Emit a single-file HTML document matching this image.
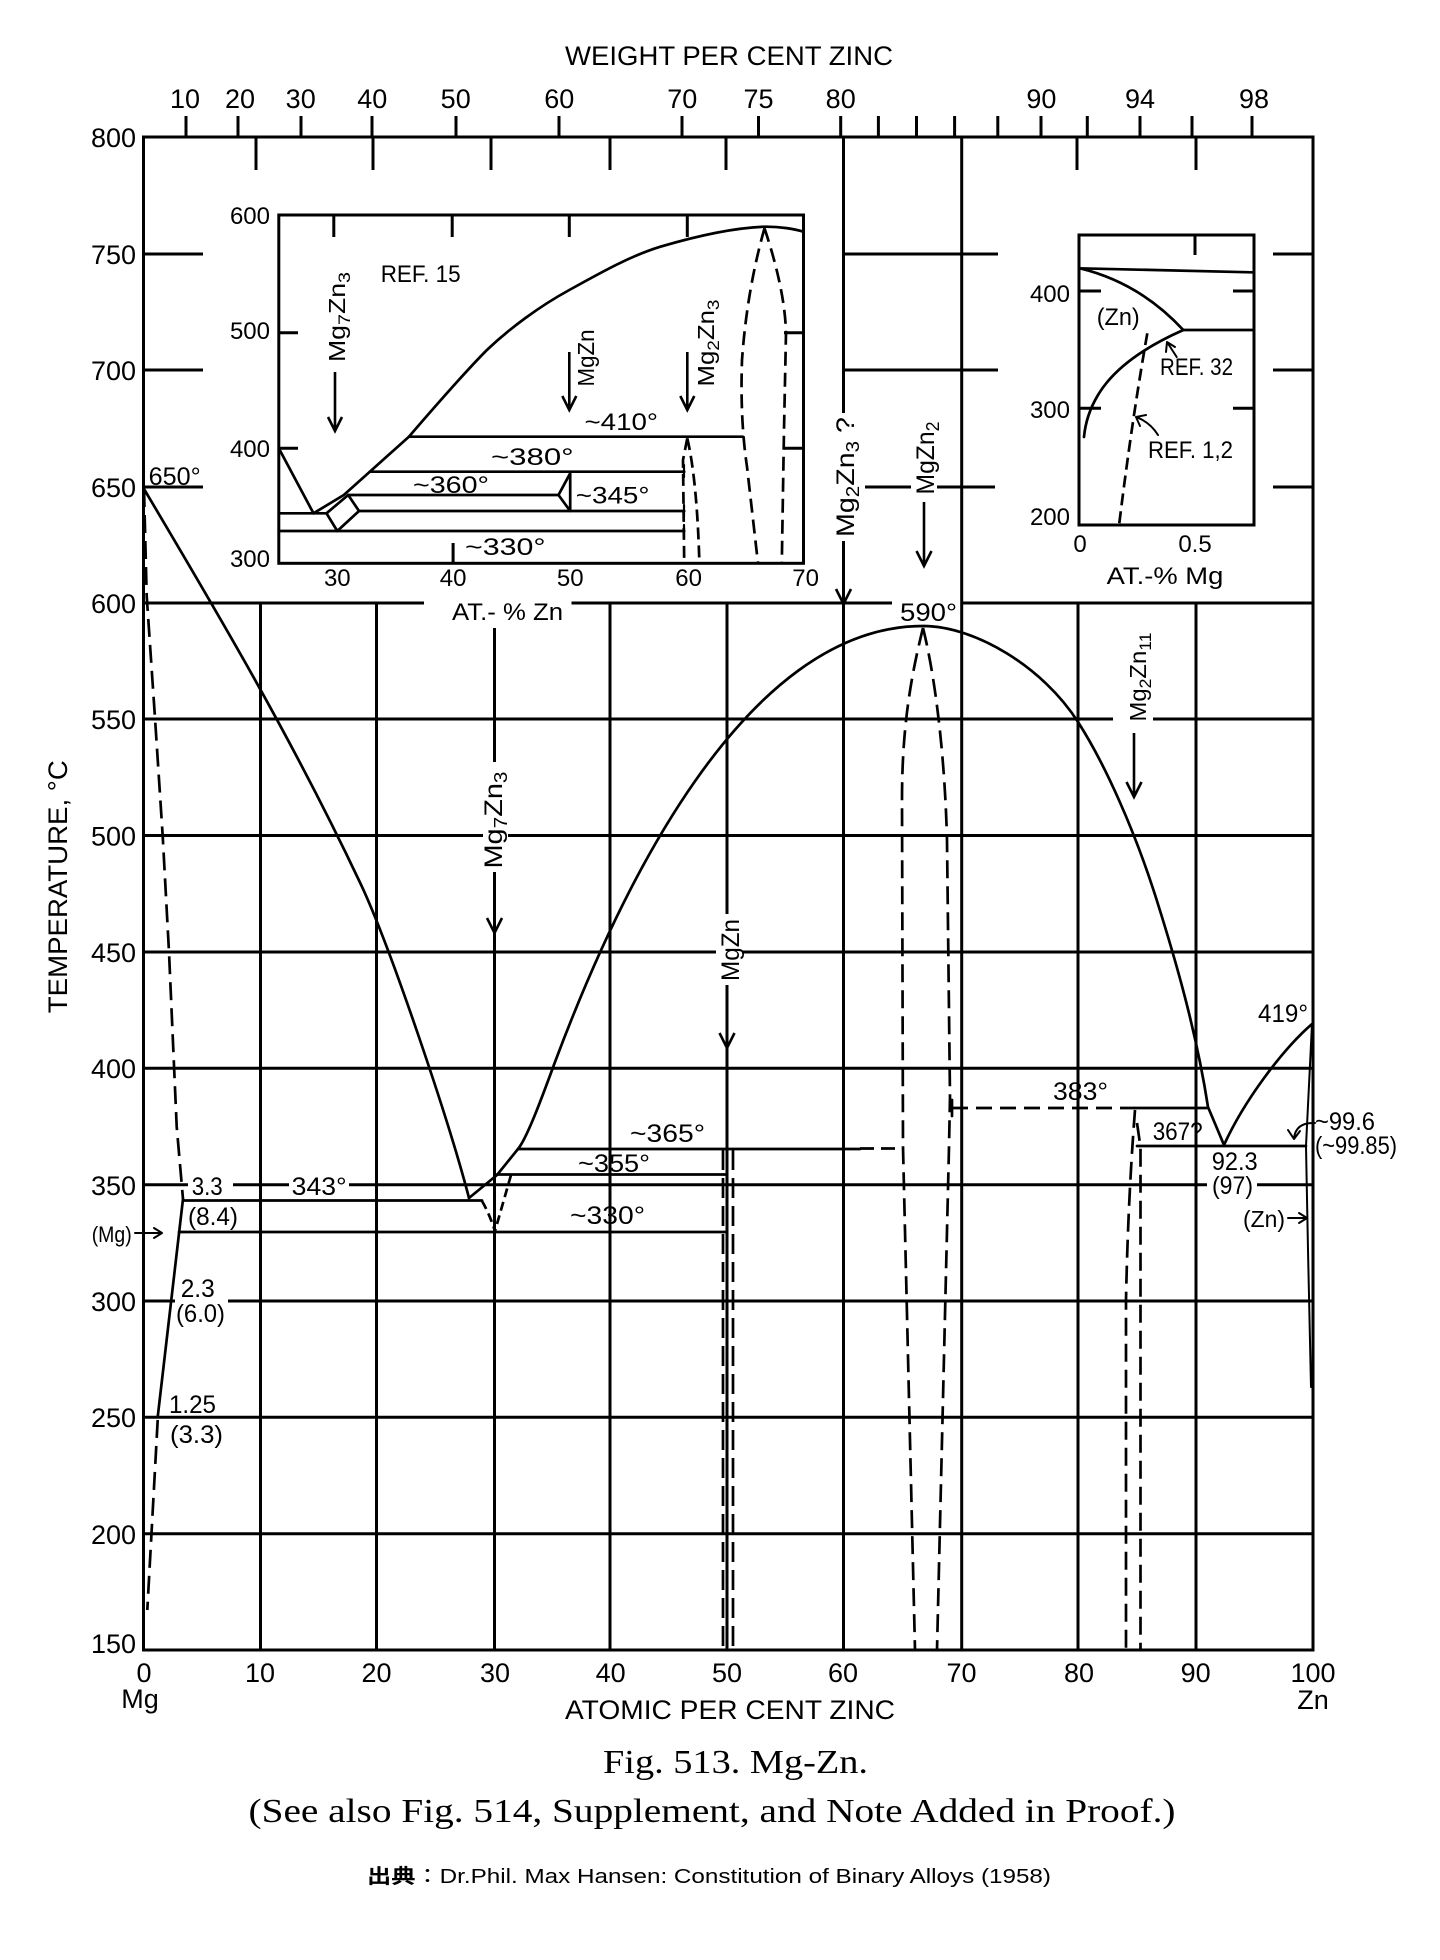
<!DOCTYPE html>
<html>
<head>
<meta charset="utf-8">
<style>
html,body{margin:0;padding:0;background:#fff;}
body{width:1440px;height:1960px;overflow:hidden;}
svg{display:block;}
text{fill:#000;}
</style>
</head>
<body>
<svg width="1440" height="1960" viewBox="0 0 1440 1960" xmlns="http://www.w3.org/2000/svg" font-family="'Liberation Sans', sans-serif">
<rect width="1440" height="1960" fill="#fff"/>

<!-- ============ FRAME & GRID ============ -->
<g stroke="#000" stroke-width="3" fill="none">
  <rect x="143.5" y="137" width="1169.5" height="1513"/>
  <!-- weight % ticks above frame -->
  <path d="M186 116V137 M238 116V137 M301 116V137 M372 116V137 M456 116V137 M559 116V137 M682 116V137 M758.5 116V137 M840.7 116V137 M878.4 116V137 M916.5 116V137 M954.6 116V137 M997.8 116V137 M1041 116V137 M1087.3 116V137 M1140 116V137 M1192 116V137 M1252 116V137"/>
  <!-- at% ticks below frame top -->
  <path d="M256 137V170 M373 137V170 M491 137V170 M610 137V170 M726 137V170 M1077 137V170 M1196 137V170"/>
  <!-- vertical grid -->
  <path d="M260.5 603V1650 M376.5 603V1650 M494.5 628V762 M494.5 872V1650 M610 603V1650 M727 603V914 M727 985V1650 M843.5 137V413 M843.5 541V1650 M961.7 137V1650 M1078 603V1650 M1196 603V1650"/>
  <!-- horizontal grid -->
  <path d="M143.5 254H203 M843.5 254H998 M1273 254H1313
           M143.5 370H203 M843.5 370H998 M1273 370H1313
           M143.5 487H203 M865 487H911 M937 487H995 M1273 487H1313
           M143.5 603H424 M571.5 603H892 M963 603H1313
           M143.5 719H1113 M1153 719H1313
           M143.5 835.5H483 M508 835.5H1313
           M143.5 952H716 M742 952H1313
           M143.5 1068.3H1313
           M143.5 1184.7H188 M233 1184.7H289 M349 1184.7H1207 M1257 1184.7H1313
           M143.5 1301H175 M228 1301H1313
           M143.5 1417.3H1313
           M143.5 1533.8H1313"/>
  <!-- compound arrows main -->
  <path d="M487 918L494.5 933L502 918 M719.5 1033L727 1048L734.5 1033 M836 589L843.5 604L851 589 M924 502V566 M916.5 551L924 566L931.5 551 M1134 733V797 M1126.5 782L1134 797L1141.5 782" stroke-width="2.6"/>

  <!-- left inset box -->
  <rect x="278.8" y="215" width="524.7" height="348.3"/>
  <path d="M333.8 215V237 M452.2 215V237 M569.3 215V237 M687.3 215V237 M278.8 332.7H298 M278.8 448.3H298 M784 332.7H803.5 M784 448.3H803.5 M453.1 543V563.3"/>
  <path d="M335 372V431 M328 417L335 431L342 417 M569.3 352V410 M562.3 396L569.3 410L576.3 396 M687.3 352V410 M680.3 396L687.3 410L694.3 396" stroke-width="2.6"/>

  <!-- right inset box -->
  <rect x="1079" y="235" width="175" height="290"/>
  <path d="M1195 235V255 M1079 291H1101 M1079 408.3H1101 M1233 291H1254 M1233 408.3H1254"/>
</g>

<!-- ============ SOLID CURVES ============ -->
<g stroke="#000" stroke-width="2.7" fill="none" stroke-linejoin="round" stroke-linecap="round">
  <!-- Mg-side liquidus -->
  <path d="M144 489 C214 607 290 734.5 360 882.5 C390 945.5 449 1121 469 1198"/>
  <!-- main liquidus -->
  <path d="M469 1198 L497 1175 L518 1149 C528 1136.6 545 1089 555 1062 C618 894 743 626 923 626 C975 626 1043 667 1078 722 C1105 764 1135 831 1157 901 C1174 955 1196 1029 1208 1107 L1224 1145 C1244 1101 1282 1050 1312 1024"/>
  <!-- (Mg) solvus solid -->
  <path d="M183 1199 L157.7 1417"/>
  <!-- horizontals -->
  <path d="M183 1200.5H482 M179 1232H725 M497 1174.5H727 M518 1149H860 M1135 1108H1208 M1137 1146H1306 M952 1100V1116"/>
  <!-- (Zn) solvus -->
  <path d="M1312 1024 L1306 1146 L1308 1250 L1311 1387" stroke-width="2"/>
  <!-- small arrows -->
  <path d="M1315 1123 Q1296 1122 1294 1138 M1288 1130 L1294 1139 L1300 1131" stroke-width="2"/>
  <path d="M1288 1218H1306 M1299 1213L1307 1218L1299 1223" stroke-width="2"/>
  <path d="M135 1233H161 M154 1228L162 1233L154 1238" stroke-width="2"/>

  <!-- left inset curves -->
  <path d="M278.8 448.3 L313.5 513.3"/>
  <path d="M313.5 513.3 L343.8 495 L369.8 471.7 L408.9 436.7 C425 418 465 372 486.9 350 C510 328 540 306 569.3 290 C600 273 630 256 660.4 246.7 C690 238 730 228 764.5 226.7 C780 226.5 795 229 803.5 231.7"/>
  <path d="M278.8 513.3H326.5 M278.8 531H684.2 M359 511H684.2 M348.2 495H558.5 M369.8 471.7H684.2 M408.9 436.7H742.8"/>
  <path d="M326.5 513.3 L348.2 495 L359 511 L337.3 531 Z"/>
  <path d="M558.5 495 L570.2 473.3 V511 Z"/>
  <path d="M684 465V477 M684 505V517 M684 525V537" stroke-width="2.2"/>

  <!-- right inset curves -->
  <path d="M1079 268.3 L1251.7 272.3"/>
  <path d="M1080 268.3 Q1140 283 1183.3 330"/>
  <path d="M1183.3 330H1253"/>
  <path d="M1183.3 330 Q1120 358 1098 395 Q1086 415 1084 437"/>
  <path d="M1176.7 357 L1167 342 M1166 352 L1167 342 L1175 347" stroke-width="2"/>
  <path d="M1158 435 Q1150 422 1136 417 M1140 426 L1136 417 L1146 415" stroke-width="2"/>
</g>

<!-- ============ DASHED CURVES ============ -->
<g stroke="#000" stroke-width="2.7" fill="none" stroke-dasharray="18 8">
  <path d="M144 489 L146.7 596 L155 718 L162.7 836 L169 952 L176.7 1126.6 L183 1199"/>
  <path d="M157.7 1420 L147.3 1610"/>
  <path d="M723 1150V1650 M733 1150V1650" stroke-dasharray="20 8"/>
  <path d="M860 1148.5H902" stroke-dasharray="14 7"/>
  <path d="M923 628 C910 680 902 730 902 800 L903 1147 L915 1650"/>
  <path d="M923 628 C936 680 945 760 947 840 L950 1097 L949 1147 L937 1650"/>
  <path d="M952 1108H1135" stroke-dasharray="16 8"/>
  <path d="M1135 1110 Q1128 1200 1126 1300 L1126 1650"/>
  <path d="M1137 1123 L1140.5 1147 L1140.5 1650"/>
  <path d="M482 1201 Q489 1213 495 1231 M511 1175 L495 1231" stroke-dasharray="9 5"/>
  <!-- left inset -->
  <path d="M687.3 438.3 L683 460 L684.2 563.3" stroke-dasharray="12 6"/>
  <path d="M687.3 438.3 Q697 480 699.4 563.3" stroke-dasharray="12 6"/>
  <path d="M764.5 228.3 Q747 290 742 360 Q740 420 747 466.7 L758 563.3" stroke-dasharray="14 7"/>
  <path d="M764.5 228.3 Q785 290 786 333 L784 430 L781.8 563.3" stroke-dasharray="14 7"/>
  <!-- right inset -->
  <path d="M1147.3 333.3 Q1132 420 1119.3 523.3" stroke-dasharray="12 6"/>
</g>

<!-- ============ AXIS TEXT ============ -->
<g font-size="27">
  <text x="729" y="65" text-anchor="middle" textLength="328" lengthAdjust="spacingAndGlyphs">WEIGHT PER CENT ZINC</text>
  <g text-anchor="middle">
    <text x="185" y="108">10</text><text x="240" y="108">20</text><text x="300.7" y="108">30</text>
    <text x="372.3" y="108">40</text><text x="455.7" y="108">50</text><text x="559.3" y="108">60</text>
    <text x="682.3" y="108">70</text><text x="758.5" y="108">75</text><text x="840.7" y="108">80</text>
    <text x="1041.4" y="108">90</text><text x="1140" y="108">94</text><text x="1254" y="108">98</text>
  </g>
  <g text-anchor="end">
    <text x="136" y="147">800</text><text x="136" y="264">750</text><text x="136" y="380">700</text>
    <text x="136" y="497">650</text><text x="136" y="613">600</text><text x="136" y="729">550</text>
    <text x="136" y="845.5">500</text><text x="136" y="962">450</text><text x="136" y="1078">400</text>
    <text x="136" y="1195">350</text><text x="136" y="1311">300</text><text x="136" y="1427">250</text>
    <text x="136" y="1544">200</text><text x="136" y="1653">150</text>
  </g>
  <g text-anchor="middle">
    <text x="144" y="1682">0</text><text x="260" y="1682">10</text><text x="376.5" y="1682">20</text>
    <text x="495" y="1682">30</text><text x="610.6" y="1682">40</text><text x="727" y="1682">50</text>
    <text x="843" y="1682">60</text><text x="961.5" y="1682">70</text><text x="1079" y="1682">80</text>
    <text x="1195.6" y="1682">90</text><text x="1313" y="1682">100</text>
    <text x="140" y="1708">Mg</text><text x="1313" y="1709">Zn</text>
  </g>
  <text x="730" y="1719" text-anchor="middle" textLength="330" lengthAdjust="spacingAndGlyphs">ATOMIC PER CENT ZINC</text>
  <text transform="translate(67,886.7) rotate(-90)" text-anchor="middle" textLength="253" lengthAdjust="spacingAndGlyphs">TEMPERATURE, °C</text>
</g>

<!-- ============ MAIN LABELS ============ -->
<g font-size="25">
  <text x="148.7" y="485" textLength="52" lengthAdjust="spacingAndGlyphs">650°</text>
  <text x="900" y="621" textLength="57" lengthAdjust="spacingAndGlyphs">590°</text>
  <text x="191.7" y="1195" textLength="31" lengthAdjust="spacingAndGlyphs">3.3</text>
  <text x="291.7" y="1195" textLength="55" lengthAdjust="spacingAndGlyphs">343°</text>
  <text x="188" y="1225" textLength="50" lengthAdjust="spacingAndGlyphs">(8.4)</text>
  <text x="91.7" y="1242" font-size="22" textLength="40" lengthAdjust="spacingAndGlyphs">(Mg)</text>
  <text x="180.7" y="1297" textLength="34" lengthAdjust="spacingAndGlyphs">2.3</text>
  <text x="176" y="1322" textLength="49" lengthAdjust="spacingAndGlyphs">(6.0)</text>
  <text x="169" y="1413" textLength="47" lengthAdjust="spacingAndGlyphs">1.25</text>
  <text x="170" y="1443" textLength="53" lengthAdjust="spacingAndGlyphs">(3.3)</text>
  <text x="630" y="1142" textLength="75" lengthAdjust="spacingAndGlyphs">~365°</text>
  <text x="578" y="1172" textLength="72" lengthAdjust="spacingAndGlyphs">~355°</text>
  <text x="570" y="1224" textLength="75" lengthAdjust="spacingAndGlyphs">~330°</text>
  <text x="1053" y="1100" textLength="55" lengthAdjust="spacingAndGlyphs">383°</text>
  <text x="1152.7" y="1140" textLength="50" lengthAdjust="spacingAndGlyphs">367?</text>
  <text x="1258" y="1022" textLength="50" lengthAdjust="spacingAndGlyphs">419°</text>
  <text x="1211.7" y="1170" textLength="46" lengthAdjust="spacingAndGlyphs">92.3</text>
  <text x="1212" y="1194" textLength="41" lengthAdjust="spacingAndGlyphs">(97)</text>
  <text x="1315" y="1130" textLength="60" lengthAdjust="spacingAndGlyphs">~99.6</text>
  <text x="1315" y="1154" textLength="82" lengthAdjust="spacingAndGlyphs">(~99.85)</text>
  <text x="1243" y="1227" font-size="23" textLength="42" lengthAdjust="spacingAndGlyphs">(Zn)</text>

  <!-- rotated compound labels -->
  <text transform="translate(854,477) rotate(-90)" text-anchor="middle" textLength="120" lengthAdjust="spacingAndGlyphs">Mg<tspan dy="5" font-size="18">2</tspan><tspan dy="-5">Zn</tspan><tspan dy="5" font-size="18">3</tspan><tspan dy="-5"> ?</tspan></text>
  <text transform="translate(934,458) rotate(-90)" text-anchor="middle" textLength="73" lengthAdjust="spacingAndGlyphs">MgZn<tspan dy="5" font-size="18">2</tspan></text>
  <text transform="translate(1146,677) rotate(-90)" text-anchor="middle" font-size="23" textLength="89" lengthAdjust="spacingAndGlyphs">Mg<tspan dy="5" font-size="17">2</tspan><tspan dy="-5">Zn</tspan><tspan dy="5" font-size="17">11</tspan></text>
  <text transform="translate(502,820) rotate(-90)" text-anchor="middle" textLength="97" lengthAdjust="spacingAndGlyphs">Mg<tspan dy="5" font-size="18">7</tspan><tspan dy="-5">Zn</tspan><tspan dy="5" font-size="18">3</tspan></text>
  <text transform="translate(739,950) rotate(-90)" text-anchor="middle" textLength="62" lengthAdjust="spacingAndGlyphs">MgZn</text>
</g>

<!-- ============ LEFT INSET LABELS ============ -->
<g font-size="24">
  <g text-anchor="end">
    <text x="270" y="224">600</text><text x="270" y="339">500</text>
    <text x="270" y="457">400</text><text x="270" y="567">300</text>
  </g>
  <g text-anchor="middle">
    <text x="337.3" y="586">30</text><text x="453.1" y="586">40</text><text x="570.2" y="586">50</text>
    <text x="688.6" y="586">60</text><text x="805.6" y="586">70</text>
  </g>
  <text x="507.5" y="620" text-anchor="middle" textLength="111" lengthAdjust="spacingAndGlyphs">AT.- % Zn</text>
  <text x="380.7" y="282" textLength="80" lengthAdjust="spacingAndGlyphs">REF. 15</text>
  <text x="584.5" y="430" textLength="73.5" lengthAdjust="spacingAndGlyphs">~410°</text>
  <text x="491" y="465" textLength="82.6" lengthAdjust="spacingAndGlyphs">~380°</text>
  <text x="413" y="493" textLength="76" lengthAdjust="spacingAndGlyphs">~360°</text>
  <text x="575.8" y="503.5" textLength="73.7" lengthAdjust="spacingAndGlyphs">~345°</text>
  <text x="465" y="555" textLength="80.5" lengthAdjust="spacingAndGlyphs">~330°</text>
  <text transform="translate(345,317) rotate(-90)" text-anchor="middle" font-size="23" textLength="90" lengthAdjust="spacingAndGlyphs">Mg<tspan dy="5" font-size="17">7</tspan><tspan dy="-5">Zn</tspan><tspan dy="5" font-size="17">3</tspan></text>
  <text transform="translate(594,358) rotate(-90)" text-anchor="middle" font-size="23" textLength="57" lengthAdjust="spacingAndGlyphs">MgZn</text>
  <text transform="translate(714,343) rotate(-90)" text-anchor="middle" font-size="23" textLength="87" lengthAdjust="spacingAndGlyphs">Mg<tspan dy="5" font-size="17">2</tspan><tspan dy="-5">Zn</tspan><tspan dy="5" font-size="17">3</tspan></text>
</g>

<!-- ============ RIGHT INSET LABELS ============ -->
<g font-size="24">
  <g text-anchor="end">
    <text x="1070" y="302">400</text><text x="1070" y="418">300</text><text x="1070" y="525">200</text>
  </g>
  <text x="1080" y="552" text-anchor="middle">0</text>
  <text x="1195" y="552" text-anchor="middle">0.5</text>
  <text x="1165" y="584" text-anchor="middle" textLength="116.6" lengthAdjust="spacingAndGlyphs">AT.-% Mg</text>
  <text x="1096.7" y="325" textLength="43" lengthAdjust="spacingAndGlyphs">(Zn)</text>
  <text x="1160" y="375" textLength="73" lengthAdjust="spacingAndGlyphs">REF. 32</text>
  <text x="1148" y="458" textLength="85" lengthAdjust="spacingAndGlyphs">REF. 1,2</text>
</g>

<!-- ============ CAPTIONS ============ -->
<g font-family="'Liberation Serif', serif" font-size="34">
  <text x="735.5" y="1773" text-anchor="middle" textLength="265" lengthAdjust="spacingAndGlyphs">Fig. 513. Mg-Zn.</text>
  <text x="712" y="1822" text-anchor="middle" textLength="927" lengthAdjust="spacingAndGlyphs">(See also Fig. 514, Supplement, and Note Added in Proof.)</text>
</g>
<text x="367" y="1883" font-family="'Liberation Sans', 'Noto Sans CJK JP', sans-serif" font-size="20" textLength="684" lengthAdjust="spacingAndGlyphs"><tspan font-weight="bold">出典</tspan>：Dr.Phil. Max Hansen: Constitution of Binary Alloys (1958)</text>
</svg>
</body>
</html>
